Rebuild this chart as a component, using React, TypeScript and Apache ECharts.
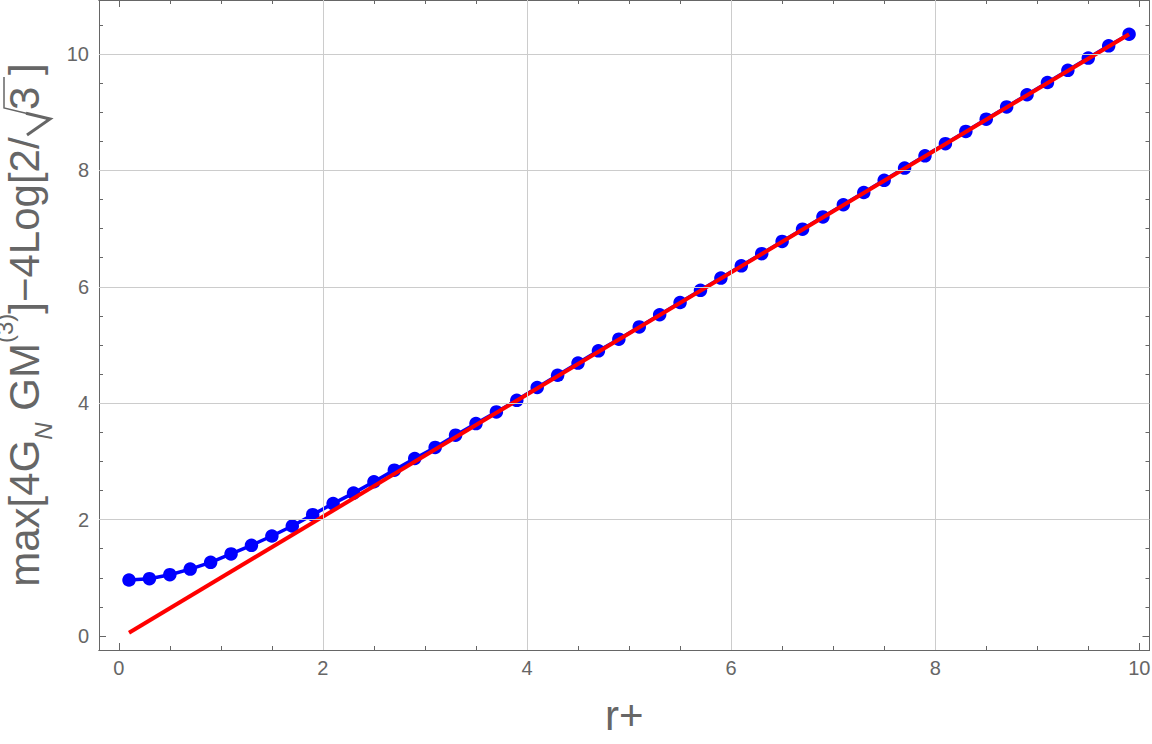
import React, { useEffect, useRef } from 'react';
import * as echarts from 'echarts';

// ---- data ----
const blueX = [
  0.1, 0.3, 0.5, 0.7, 0.9, 1.1, 1.3, 1.5, 1.7, 1.9,
  2.1, 2.3, 2.5, 2.7, 2.9, 3.1, 3.3, 3.5, 3.7, 3.9,
  4.1, 4.3, 4.5, 4.7, 4.9, 5.1, 5.3, 5.5, 5.7, 5.9,
  6.1, 6.3, 6.5, 6.7, 6.9, 7.1, 7.3, 7.5, 7.7, 7.9,
  8.1, 8.3, 8.5, 8.7, 8.9, 9.1, 9.3, 9.5, 9.7, 9.9,
];
const blueY = [
  0.962, 0.985, 1.053, 1.15, 1.266, 1.41, 1.558, 1.718, 1.89, 2.085,
  2.275, 2.455, 2.65, 2.85, 3.05, 3.24, 3.45, 3.65, 3.85, 4.05,
  4.27, 4.48, 4.69, 4.9, 5.1, 5.31, 5.52, 5.73, 5.94, 6.15,
  6.36, 6.57, 6.78, 6.99, 7.2, 7.41, 7.62, 7.83, 8.04, 8.25,
  8.46, 8.67, 8.88, 9.09, 9.3, 9.51, 9.72, 9.93, 10.14, 10.34,
];
const redX = [0.1, 9.9];
const redY = [0.057, 10.34];

const majorX = [0, 2, 4, 6, 8, 10];
const minorX = [0.5, 1, 1.5, 2.5, 3, 3.5, 4.5, 5, 5.5, 6.5, 7, 7.5, 8.5, 9, 9.5];
const majorY = [0, 2, 4, 6, 8, 10];
const minorY = [0.5, 1, 1.5, 2.5, 3, 3.5, 4.5, 5, 5.5, 6.5, 7, 7.5, 8.5, 9, 9.5, 10.5];
const gridX = [2, 4, 6, 8];
const gridY = [2, 4, 6, 8, 10];

const X_MIN = -0.194;
const X_MAX = 10.1;
const Y_MIN = -0.2405;
const Y_MAX = 10.928;

const FONT = "'Liberation Sans', Arial, Helvetica, sans-serif";
const AX = '#666666';

function axisBase(kind: 'x' | 'y', position: string, ticks: number[], len: number, labels: boolean) {
  return {
    type: 'value',
    position,
    min: kind === 'x' ? X_MIN : Y_MIN,
    max: kind === 'x' ? X_MAX : Y_MAX,
    axisLine: { show: true, onZero: false, lineStyle: { color: AX, width: 1 } },
    axisTick: { show: true, inside: true, length: len, customValues: ticks, lineStyle: { color: AX, width: 1 } },
    axisLabel: labels
      ? {
          show: true,
          customValues: ticks,
          color: AX,
          fontSize: 20,
          fontFamily: FONT,
          margin: kind === 'x' ? 8 : 10,
        }
      : { show: false },
    splitLine: { show: false },
    minorTick: { show: false },
  } as any;
}

export default function App() {
  const ref = useRef<HTMLDivElement>(null);
  useEffect(() => {
    if (!ref.current) return;
    const chart = echarts.init(ref.current, undefined, { renderer: 'svg' });

    const xBottom = axisBase('x', 'bottom', majorX, 7, true);
    xBottom.name = 'r+';
    xBottom.nameLocation = 'middle';
    xBottom.nameGap = 44;
    xBottom.nameTextStyle = { color: AX, fontSize: 42, fontFamily: FONT };

    const yLeft = axisBase('y', 'left', majorY, 7, true);
    // the radical sign is kept as text (transparent) for spacing and redrawn as a taller stroke below
    yLeft.name = '{t|max[4G}{sub|N}{t| GM}{sup|(3)}{t|]\u22124Log[2/}{rad|\u221A}{t|3 ]}';
    yLeft.nameLocation = 'middle';
    yLeft.nameRotate = 90;
    yLeft.nameGap = 35;
    yLeft.nameTextStyle = {
      color: AX,
      fontFamily: FONT,
      rich: {
        t: { color: AX, fontFamily: FONT, fontSize: 42, lineHeight: 63 },
        rad: { color: 'rgba(0,0,0,0)', fontFamily: FONT, fontSize: 50, lineHeight: 63 },
        sub: { color: AX, fontFamily: FONT, fontSize: 24, fontStyle: 'italic', lineHeight: 54, verticalAlign: 'bottom' },
        sup: { color: AX, fontFamily: FONT, fontSize: 24, lineHeight: 24, verticalAlign: 'top' },
      },
    };

    const option: any = {
      animation: false,
      backgroundColor: '#ffffff',
      grid: { left: 99, right: 2.5, top: 0, bottom: 94, containLabel: false, outerBoundsMode: 'none' },
      xAxis: [
        xBottom,
        axisBase('x', 'bottom', minorX, 4, false),
        axisBase('x', 'top', majorX, 7, false),
        axisBase('x', 'top', minorX, 4, false),
      ],
      yAxis: [
        yLeft,
        axisBase('y', 'left', minorY, 4, false),
        axisBase('y', 'right', majorY, 7, false),
        axisBase('y', 'right', minorY, 4, false),
      ],
      graphic: [
        {
          type: 'polyline',
          silent: true,
          shape: { points: [[4, 77], [4, 108], [27, 113.5]] },
          style: { stroke: AX, lineWidth: 1.5, fill: 'none' },
        },
        {
          type: 'polyline',
          silent: true,
          shape: { points: [[26, 113.3], [50, 119], [27, 135]] },
          style: { stroke: AX, lineWidth: 3, fill: 'none', lineJoin: 'miter' },
        },
      ],
      series: [
        {
          type: 'line',
          data: [],
          silent: true,
          z: 1,
          markLine: {
            silent: true,
            symbol: ['none', 'none'],
            label: { show: false },
            lineStyle: { color: '#cccccc', width: 1, type: 'solid' },
            data: [
              ...gridX.map((v) => ({ xAxis: v })),
              ...gridY.map((v) => ({ yAxis: v })),
            ],
          },
        },
        {
          type: 'line',
          data: blueX.map((x, i) => [x, blueY[i]]),
          symbol: 'circle',
          symbolSize: 13.5,
          showSymbol: true,
          itemStyle: { color: '#0000ff' },
          lineStyle: { color: '#0000ff', width: 3.5 },
          z: 2,
        },
        {
          type: 'line',
          data: redX.map((x, i) => [x, redY[i]]),
          symbol: 'none',
          lineStyle: { color: '#ff0000', width: 4 },
          z: 3,
        },
      ],
    };
    chart.setOption(option);
    return () => chart.dispose();
  }, []);
  return (
    <div
      ref={ref}
      style={{ position: 'fixed', left: 0, top: 0, width: 1152, height: 744, background: '#fff' }}
    />
  );
}
